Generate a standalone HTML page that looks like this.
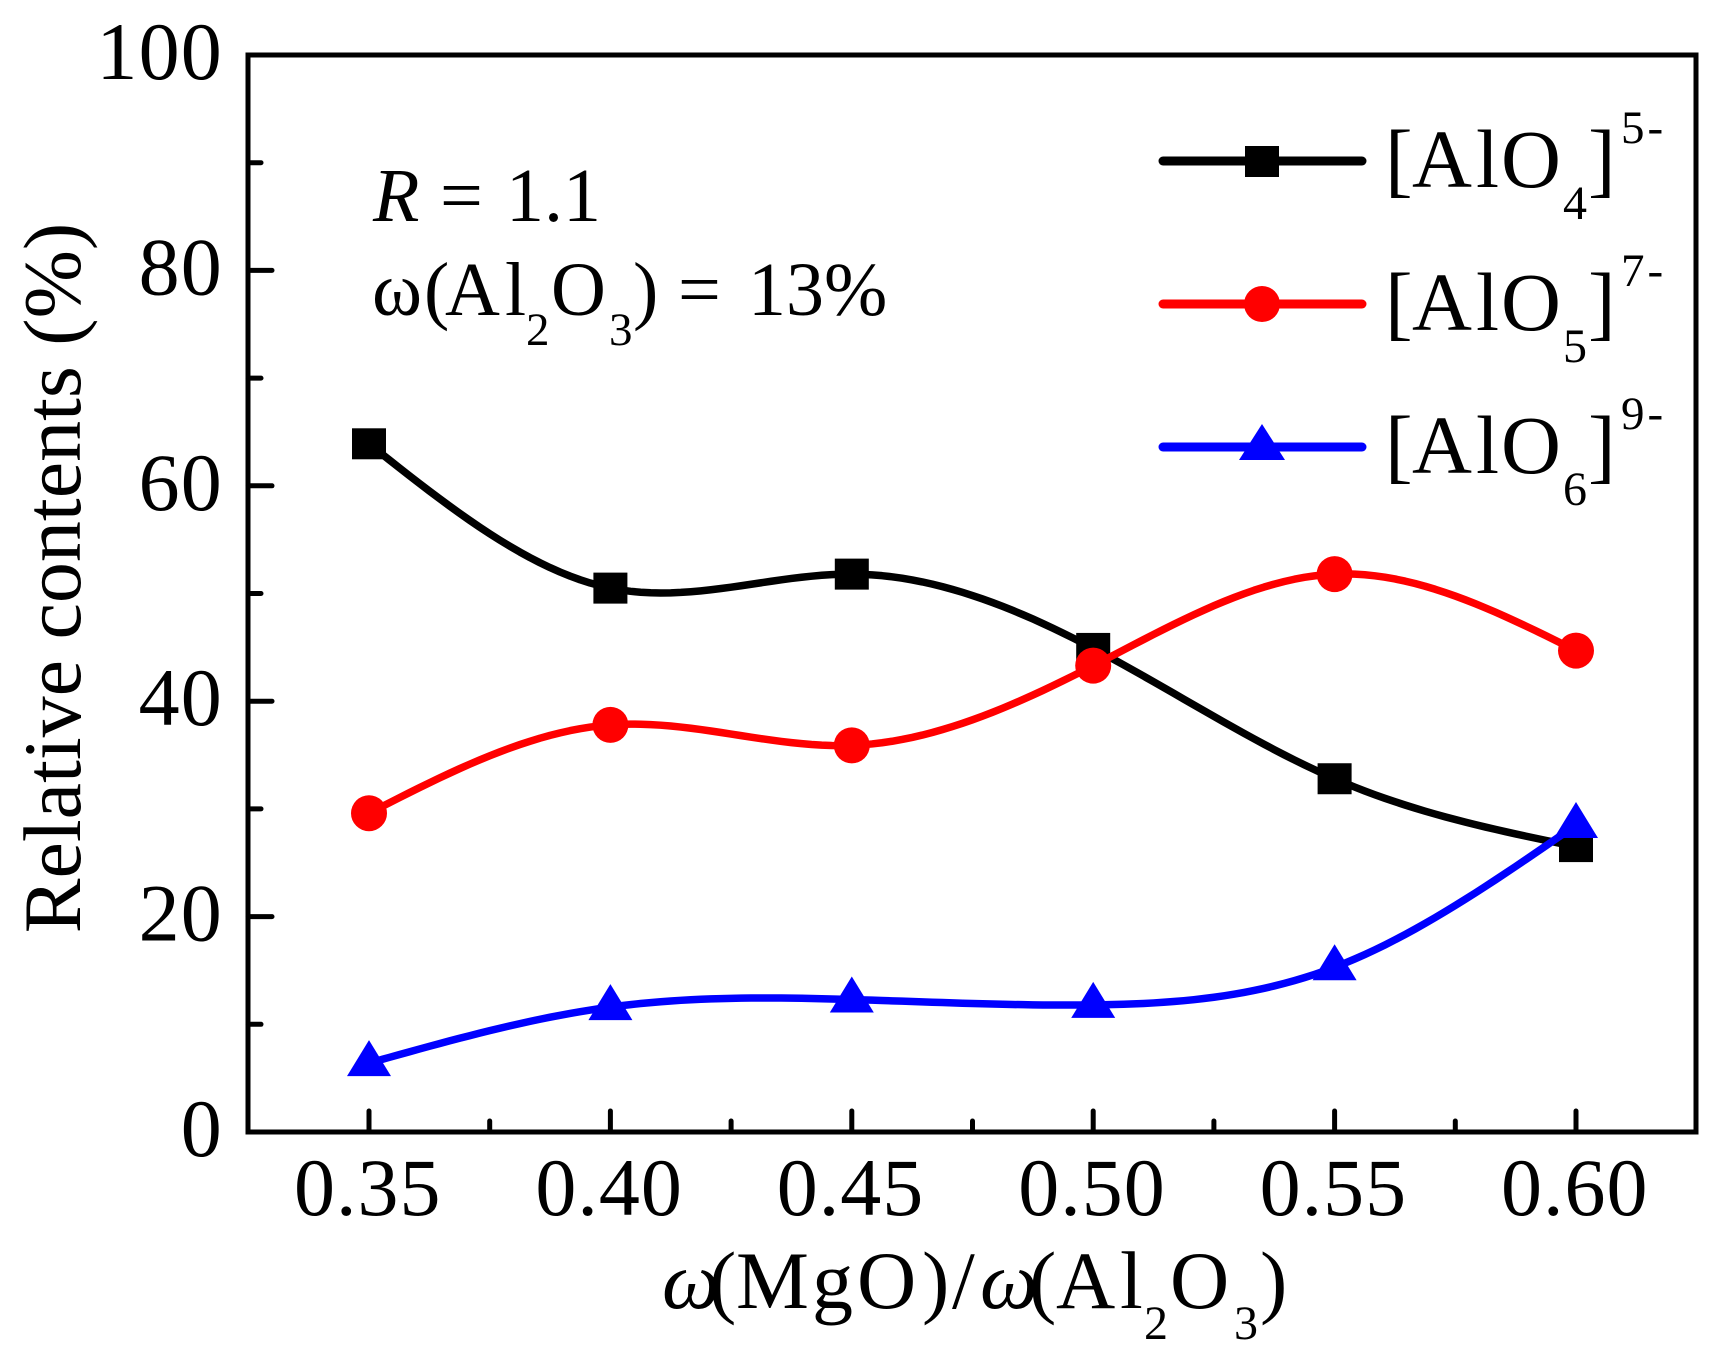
<!DOCTYPE html>
<html lang="en">
<head>
<meta charset="utf-8">
<title>Relative contents chart</title>
<style>
html,body{margin:0;padding:0;background:#fff;width:1721px;height:1361px;overflow:hidden}
svg{display:block}
text{font-family:"Liberation Serif","DejaVu Serif",serif;fill:#000}
</style>
</head>
<body>
<svg id="chart" width="1721" height="1361" viewBox="0 0 1721 1361" xmlns="http://www.w3.org/2000/svg">
  <rect x="0" y="0" width="1721" height="1361" fill="#fff"/>
  <g id="ticks"></g>
  <rect x="248" y="55" width="1448" height="1077" fill="none" stroke="#000" stroke-width="5"/>
  <g id="tick-labels" font-size="82"></g>
  <g id="series"></g>

  <text font-size="82" text-anchor="middle" transform="translate(80 578) rotate(-90)">Relative contents (%)</text>

  <g font-size="82">
    <text x="662" y="1308" font-style="italic">ω</text>
    <text x="709 736 812 857 922 952" y="1308">(MgO)/</text>
    <text x="980" y="1308" font-style="italic">ω</text>
    <text x="1029 1056 1120" y="1308">(Al</text>
    <text x="1144" y="1339" font-size="48">2</text>
    <text x="1170" y="1308">O</text>
    <text x="1234" y="1339" font-size="48">3</text>
    <text x="1260" y="1308">)</text>
  </g>

  <g font-size="76">
    <text x="373" y="221" font-style="italic">R</text>
    <text x="440" y="221">=</text>
    <text x="506" y="221">1.1</text>
    <text x="372 424 445 505" y="315">ω(Al</text>
    <text x="526" y="345" font-size="47">2</text>
    <text x="551" y="315">O</text>
    <text x="609" y="345" font-size="47">3</text>
    <text x="633 678" y="315">)=</text>
    <text x="748 786 824" y="315">13%</text>
  </g>

  <g>
    <g>
      <line x1="1163" x2="1362" y1="161" y2="161" stroke="#000" stroke-width="9" stroke-linecap="round"/>
      <rect x="1245" y="146" width="34" height="31" fill="#000"/>
      <text x="1385 1412 1476 1501" y="187" font-size="83">[AlO</text>
      <text x="1563" y="219" font-size="48">4</text>
      <text x="1588" y="187" font-size="83">]</text>
      <text x="1621" y="143" font-size="47" letter-spacing="3">5-</text>
    </g>
    <g>
      <line x1="1163" x2="1362" y1="304" y2="304" stroke="#f00" stroke-width="9" stroke-linecap="round"/>
      <circle cx="1262" cy="304" r="18" fill="#f00"/>
      <text x="1385 1412 1476 1501" y="330" font-size="83">[AlO</text>
      <text x="1563" y="362" font-size="48">5</text>
      <text x="1588" y="330" font-size="83">]</text>
      <text x="1621" y="286" font-size="47" letter-spacing="3">7-</text>
    </g>
    <g>
      <line x1="1163" x2="1362" y1="447" y2="447" stroke="#00f" stroke-width="9" stroke-linecap="round"/>
      <polygon points="1262,424 1285,460 1239,460" fill="#00f"/>
      <text x="1385 1412 1476 1501" y="473" font-size="83">[AlO</text>
      <text x="1563" y="505" font-size="48">6</text>
      <text x="1588" y="473" font-size="83">]</text>
      <text x="1621" y="429" font-size="47" letter-spacing="3">9-</text>
    </g>
  </g>
</svg>
<script>
const categories = [0.35, 0.40, 0.45, 0.50, 0.55, 0.60];
const alo4Values = [63.9, 50.5, 51.8, 44.9, 32.8, 26.5];
const alo5Values = [29.6, 37.8, 35.9, 43.3, 51.8, 44.7];
const alo6Values = [6.4, 11.6, 12.3, 11.8, 15.3, 28.5];
const xTickLabels = ['0.35', '0.40', '0.45', '0.50', '0.55', '0.60'];
const xMinorTicks = [0.375, 0.425, 0.475, 0.525, 0.575];
const yTickLabels = [0, 20, 40, 60, 80, 100];
const yMinorTicks = [10, 30, 50, 70, 90];

const NS = 'http://www.w3.org/2000/svg';
function xScale(v) { return 369 + (v - 0.35) * (1576 - 369) / 0.25; }
function yScale(v) { return 1132 - v * (1132 - 55) / 100; }
function make(tag, attrs, parent) {
  const el = document.createElementNS(NS, tag);
  for (const k in attrs) el.setAttribute(k, attrs[k]);
  parent.appendChild(el);
  return el;
}
/* natural cubic spline through the data points, evaluated in pixel space */
function splinePath(xs, ys) {
  const n = xs.length, h = [], a = [], b = [], c = [], d = [], m = new Array(n).fill(0);
  for (let i = 0; i < n - 1; i++) h[i] = xs[i + 1] - xs[i];
  for (let i = 1; i < n - 1; i++) {
    a[i] = h[i - 1];
    b[i] = 2 * (h[i - 1] + h[i]);
    c[i] = h[i];
    d[i] = 6 * ((ys[i + 1] - ys[i]) / h[i] - (ys[i] - ys[i - 1]) / h[i - 1]);
  }
  for (let i = 2; i < n - 1; i++) {
    const w = a[i] / b[i - 1];
    b[i] -= w * c[i - 1];
    d[i] -= w * d[i - 1];
  }
  for (let i = n - 2; i >= 1; i--) m[i] = (d[i] - c[i] * m[i + 1]) / b[i];
  let p = 'M' + xs[0] + ' ' + ys[0];
  for (let i = 0; i < n - 1; i++) {
    for (let s = 1; s <= 24; s++) {
      const t = s / 24, A = 1 - t, B = t;
      const y = A * ys[i] + B * ys[i + 1] + ((A * A * A - A) * m[i] + (B * B * B - B) * m[i + 1]) * h[i] * h[i] / 6;
      p += 'L' + (xs[i] + t * h[i]).toFixed(2) + ' ' + y.toFixed(2);
    }
  }
  return p;
}

const tickLayer = document.getElementById('ticks');
const labelLayer = document.getElementById('tick-labels');
const seriesLayer = document.getElementById('series');

xTickLabels.forEach(function (label, i) {
  const x = xScale(categories[i]);
  const tick = make('line', { x1: x, x2: x, y1: 1132, y2: 1111, stroke: '#000', 'stroke-width': 5, 'stroke-linecap': 'round' }, tickLayer);
  
  
  const t = make('text', { x: x - 75, y: 1215, 'letter-spacing': 1 }, labelLayer);
  
  
  t.textContent = label;
});
xMinorTicks.forEach(function (v) {
  const x = xScale(v);
  const tick = make('line', { x1: x, x2: x, y1: 1132, y2: 1121, stroke: '#000', 'stroke-width': 5, 'stroke-linecap': 'round' }, tickLayer);
  
  
});
yTickLabels.forEach(function (v) {
  const y = yScale(v);
  const tick = make('line', { x1: 248, x2: 272, y1: y, y2: y, stroke: '#000', 'stroke-width': 5, 'stroke-linecap': 'round' }, tickLayer);
  
  
  const t = make('text', { x: 223, y: y + 24, 'text-anchor': 'end', 'letter-spacing': 1.2 }, labelLayer);
  
  
  t.textContent = String(v);
});
yMinorTicks.forEach(function (v) {
  const y = yScale(v);
  const tick = make('line', { x1: 248, x2: 261, y1: y, y2: y, stroke: '#000', 'stroke-width': 5, 'stroke-linecap': 'round' }, tickLayer);
  
  
});

function drawSeries(values, color, markerKind, name) {
  const xs = categories.map(xScale);
  const ys = values.map(yScale);
  const line = make('path', { d: splinePath(xs, ys), fill: 'none', stroke: color, 'stroke-width': 7.5, 'stroke-linejoin': 'round' }, seriesLayer);
  
  
  xs.forEach(function (x, i) {
    const y = ys[i];
    let mark;
    if (markerKind === 'square') {
      mark = make('rect', { x: x - 17, y: y - 15.5, width: 34, height: 31, fill: color }, seriesLayer);
    } else if (markerKind === 'circle') {
      mark = make('circle', { cx: x, cy: y, r: 18, fill: color }, seriesLayer);
    } else {
      mark = make('polygon', { points: x + ',' + (y - 23) + ' ' + (x + 22) + ',' + (y + 13) + ' ' + (x - 22) + ',' + (y + 13), fill: color }, seriesLayer);
    }
    
    
  });
}
drawSeries(alo4Values, '#000', 'square', 'alo4-series');
drawSeries(alo5Values, '#f00', 'circle', 'alo5-series');
drawSeries(alo6Values, '#00f', 'triangle', 'alo6-series');
</script>
</body>
</html>
